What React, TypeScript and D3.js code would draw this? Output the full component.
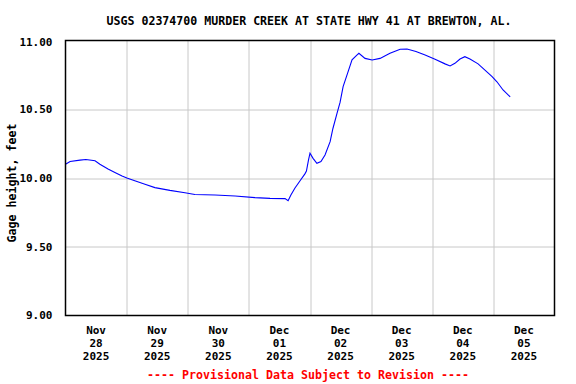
import React, { useMemo } from "react";
import * as d3 from "d3";

const WIDTH = 576;
const HEIGHT = 384;
const MARGIN = { top: 40.5, right: 21.5, bottom: 68.5, left: 65.5 };

const TITLE = "USGS 02374700 MURDER CREEK AT STATE HWY 41 AT BREWTON, AL.";
const Y_LABEL = "Gage height, feet";
const FOOTNOTE = "---- Provisional Data Subject to Revision ----";

// hours after Nov 27 2025 12:00
const hours = [
    0, 1.8, 5.7, 8.0, 11.6, 13.5, 16.7, 19.4, 22.2, 24.1, 27.2, 31.2, 35.1, 41, 46.9,
    50.8, 58.7, 66.6, 74.4, 80.3, 86.2, 87.4, 88.5, 90.1, 92.1, 94.0, 94.6, 95.4, 96.0,
    97.2, 98.7, 100.3, 101.9, 103.9, 105.0, 106.6, 107.8, 109.0, 110.9, 112.5, 114.5,
    115.2, 117.6, 120.4, 123.5, 127.4, 131.4, 134.1, 137.6, 141.2, 145.1, 149.0, 151.0,
    152.9, 154.9, 156.8, 158.8, 162.0, 164.7, 167.5, 169.4, 171.8, 174.6,
];
const gageHeight = [
    10.10, 10.12, 10.13, 10.135, 10.125, 10.10, 10.065, 10.04, 10.015, 10.00, 9.98, 9.955,
    9.93, 9.91, 9.893, 9.88, 9.876, 9.869, 9.857, 9.852, 9.85, 9.835, 9.876, 9.927, 9.98,
    10.03, 10.05, 10.13, 10.18, 10.143, 10.107, 10.12, 10.167, 10.264, 10.36, 10.47, 10.55,
    10.664, 10.77, 10.86, 10.895, 10.907, 10.87, 10.858, 10.87, 10.907, 10.936, 10.938,
    10.92, 10.895, 10.863, 10.83, 10.815, 10.834, 10.865, 10.882, 10.865, 10.83, 10.785,
    10.737, 10.70, 10.64, 10.59,
];

const yTicks = [9.0, 9.5, 10.0, 10.5, 11.0];
const dayLabels = [
    ["Nov", "28", "2025"],
    ["Nov", "29", "2025"],
    ["Nov", "30", "2025"],
    ["Dec", "01", "2025"],
    ["Dec", "02", "2025"],
    ["Dec", "03", "2025"],
    ["Dec", "04", "2025"],
    ["Dec", "05", "2025"],
];

const START = new Date(2025, 10, 27, 12);
const END = new Date(2025, 11, 5, 12);
const FONT = "'DejaVu Sans Mono', monospace";

const App = () => {
    const boundsWidth = WIDTH - MARGIN.left - MARGIN.right;
    const boundsHeight = HEIGHT - MARGIN.top - MARGIN.bottom;

    const xScale = useMemo(
        () => d3.scaleTime().domain([START, END]).range([0, boundsWidth]),
        [boundsWidth]
    );
    const yScale = useMemo(
        () => d3.scaleLinear().domain([9, 11]).range([boundsHeight, 0]),
        [boundsHeight]
    );

    const data = hours.map((h, i) => ({
        t: new Date(START.getTime() + h * 3600e3),
        v: gageHeight[i],
    }));

    const linePath = d3
        .line<{ t: Date; v: number }>()
        .x((d) => xScale(d.t))
        .y((d) => yScale(d.v))(data) || "";

    // gridlines at noon, labels at midnight
    const noonGrid = d3.timeDay
        .range(new Date(2025, 10, 28), new Date(2025, 11, 5))
        .map((d) => new Date(d.getTime() + 12 * 3600e3));
    const midnights = d3.timeDay.range(new Date(2025, 10, 28), new Date(2025, 11, 6));

    return (
        <div style={{ position: "absolute", left: 0, top: 0 }}>
            <svg width={WIDTH} height={HEIGHT} style={{ display: "block", background: "#fff" }}>
                <text
                    x={309}
                    y={25}
                    textAnchor="middle"
                    fontFamily={FONT}
                    fontWeight="bold"
                    fontSize={11.5}
                    textLength={405}
                    lengthAdjust="spacingAndGlyphs"
                >
                    {TITLE}
                </text>
                <g transform={`translate(${MARGIN.left},${MARGIN.top})`}>
                    {yTicks.slice(1, -1).map((v) => (
                        <line
                            key={"h" + v}
                            x1={0}
                            x2={boundsWidth}
                            y1={Math.round(yScale(v)) + 0.5}
                            y2={Math.round(yScale(v)) + 0.5}
                            stroke="#c8c8c8"
                        />
                    ))}
                    {noonGrid.map((d) => (
                        <line
                            key={"v" + d.getTime()}
                            x1={Math.round(xScale(d)) + 0.5}
                            x2={Math.round(xScale(d)) + 0.5}
                            y1={0}
                            y2={boundsHeight}
                            stroke="#c8c8c8"
                        />
                    ))}
                    <path d={linePath} fill="none" stroke="#0000ff" strokeWidth={1.1} />
                    <rect
                        x={0}
                        y={0}
                        width={boundsWidth}
                        height={boundsHeight}
                        fill="none"
                        stroke="#000"
                        strokeWidth={1.5}
                    />
                    {yTicks.map((v) => (
                        <text
                            key={"yl" + v}
                            x={-13}
                            y={yScale(v) + (v === 11 ? 2 : 0)}
                            dy="0.36em"
                            textAnchor="end"
                            fontFamily={FONT}
                            fontWeight="bold"
                            fontSize={11}
                        >
                            {v.toFixed(2)}
                        </text>
                    ))}
                    {midnights.map((d, i) => (
                        <text
                            key={"xl" + i}
                            x={xScale(d)}
                            y={boundsHeight + 18.5}
                            textAnchor="middle"
                            fontFamily={FONT}
                            fontWeight="bold"
                            fontSize={11}
                        >
                            {dayLabels[i].map((s, j) => (
                                <tspan key={j} x={xScale(d)} dy={j === 0 ? 0 : 13}>
                                    {s}
                                </tspan>
                            ))}
                        </text>
                    ))}
                </g>
                <text
                    transform="translate(15.5,183) rotate(-90)"
                    textAnchor="middle"
                    fontFamily={FONT}
                    fontWeight="bold"
                    fontSize={11.5}
                    textLength={119}
                    lengthAdjust="spacingAndGlyphs"
                >
                    {Y_LABEL}
                </text>
                <text
                    x={308}
                    y={379}
                    textAnchor="middle"
                    fill="#ff0000"
                    fontFamily={FONT}
                    fontWeight="bold"
                    fontSize={11.5}
                    textLength={322}
                    lengthAdjust="spacingAndGlyphs"
                >
                    {FOOTNOTE}
                </text>
            </svg>
        </div>
    );
};

export default App;
